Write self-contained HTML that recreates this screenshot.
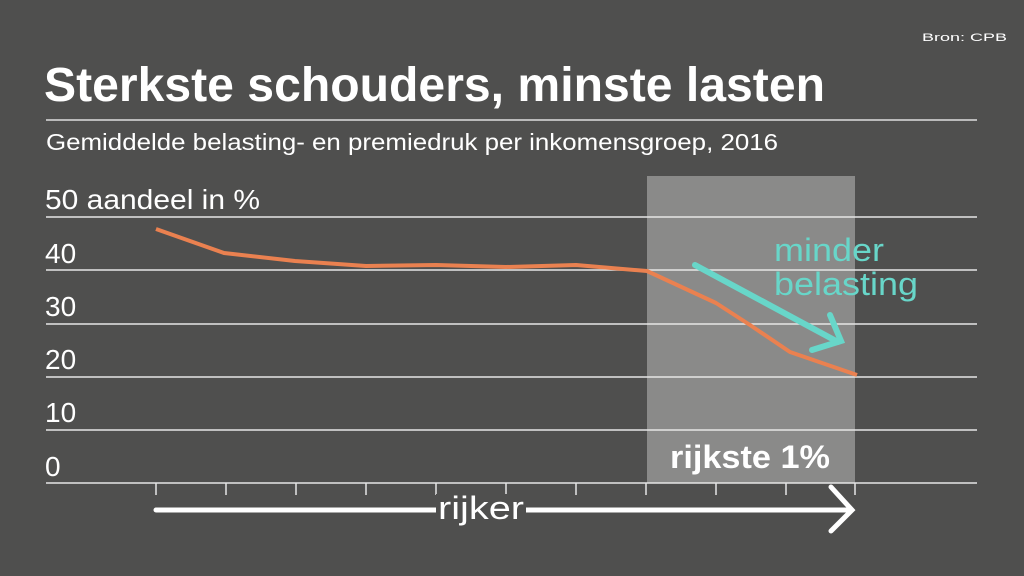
<!DOCTYPE html>
<html><head><meta charset="utf-8"><style>
body{margin:0;background:#4f4f4e;}
svg{display:block;font-family:"Liberation Sans",sans-serif;}
</style></head><body>
<svg width="1024" height="576" viewBox="0 0 1024 576">
<rect width="1024" height="576" fill="#4f4f4e"/>
<text x="922" y="41" font-size="11" fill="#fff" textLength="85" lengthAdjust="spacingAndGlyphs">Bron: CPB</text>
<text x="44" y="101" font-size="48" font-weight="bold" fill="#fff" textLength="781" lengthAdjust="spacingAndGlyphs">Sterkste schouders, minste lasten</text>
<line x1="46" y1="120" x2="977" y2="120" stroke="#ddd" stroke-width="1.5"/>
<text x="46" y="150" font-size="23" fill="#fff" textLength="732" lengthAdjust="spacingAndGlyphs">Gemiddelde belasting- en premiedruk per inkomensgroep, 2016</text>
<rect x="647" y="176" width="208" height="307" fill="#8a8a89"/>
<g stroke="#e6e6e6" stroke-width="1.5">
<line x1="46" y1="217" x2="977" y2="217"/>
<line x1="46" y1="270" x2="977" y2="270"/>
<line x1="46" y1="324" x2="977" y2="324"/>
<line x1="46" y1="377" x2="977" y2="377"/>
<line x1="46" y1="430" x2="977" y2="430"/>
<line x1="46" y1="483" x2="977" y2="483"/>
<line x1="156" y1="483" x2="156" y2="495"/><line x1="226" y1="483" x2="226" y2="495"/><line x1="296" y1="483" x2="296" y2="495"/><line x1="366" y1="483" x2="366" y2="495"/><line x1="436" y1="483" x2="436" y2="495"/><line x1="506" y1="483" x2="506" y2="495"/><line x1="576" y1="483" x2="576" y2="495"/><line x1="646" y1="483" x2="646" y2="495"/><line x1="716" y1="483" x2="716" y2="495"/><line x1="786" y1="483" x2="786" y2="495"/><line x1="855" y1="483" x2="855" y2="495"/>
</g>
<g font-size="28" fill="#fff">
<text x="45" y="209" textLength="215" lengthAdjust="spacingAndGlyphs">50 aandeel in %</text>
<text x="45" y="263">40</text>
<text x="45" y="316">30</text>
<text x="45" y="369">20</text>
<text x="45" y="422">10</text>
<text x="45" y="476">0</text>
</g>
<polyline points="156,229 224,253 295,261 366,266 436,265 506,267 576,265 647,271 716,303 750,325 790,352 857,375" fill="none" stroke="#ea8150" stroke-width="4" stroke-linejoin="round"/>
<g stroke="#68d6c9" stroke-width="6" stroke-linecap="round" fill="none">
<line x1="695" y1="265" x2="838" y2="342"/>
<polyline points="830,315 841,341 812,350"/>
</g>
<text x="774" y="261" font-size="32" fill="#68d6c9" textLength="110" lengthAdjust="spacingAndGlyphs">minder</text>
<text x="774" y="295" font-size="32" fill="#68d6c9" textLength="144" lengthAdjust="spacingAndGlyphs">belasting</text>
<text x="670" y="468" font-size="32" font-weight="bold" fill="#fff" textLength="160" lengthAdjust="spacingAndGlyphs">rijkste 1%</text>
<line x1="156" y1="510" x2="850" y2="510" stroke="#fff" stroke-width="5" stroke-linecap="round"/>
<polyline points="831,487 852,510 831,531" fill="none" stroke="#fff" stroke-width="5" stroke-linecap="round"/>
<rect x="436" y="494" width="90" height="30" fill="#4f4f4e"/>
<text x="438" y="519" font-size="32" fill="#fff" textLength="86" lengthAdjust="spacingAndGlyphs">rijker</text>
</svg>
</body></html>
